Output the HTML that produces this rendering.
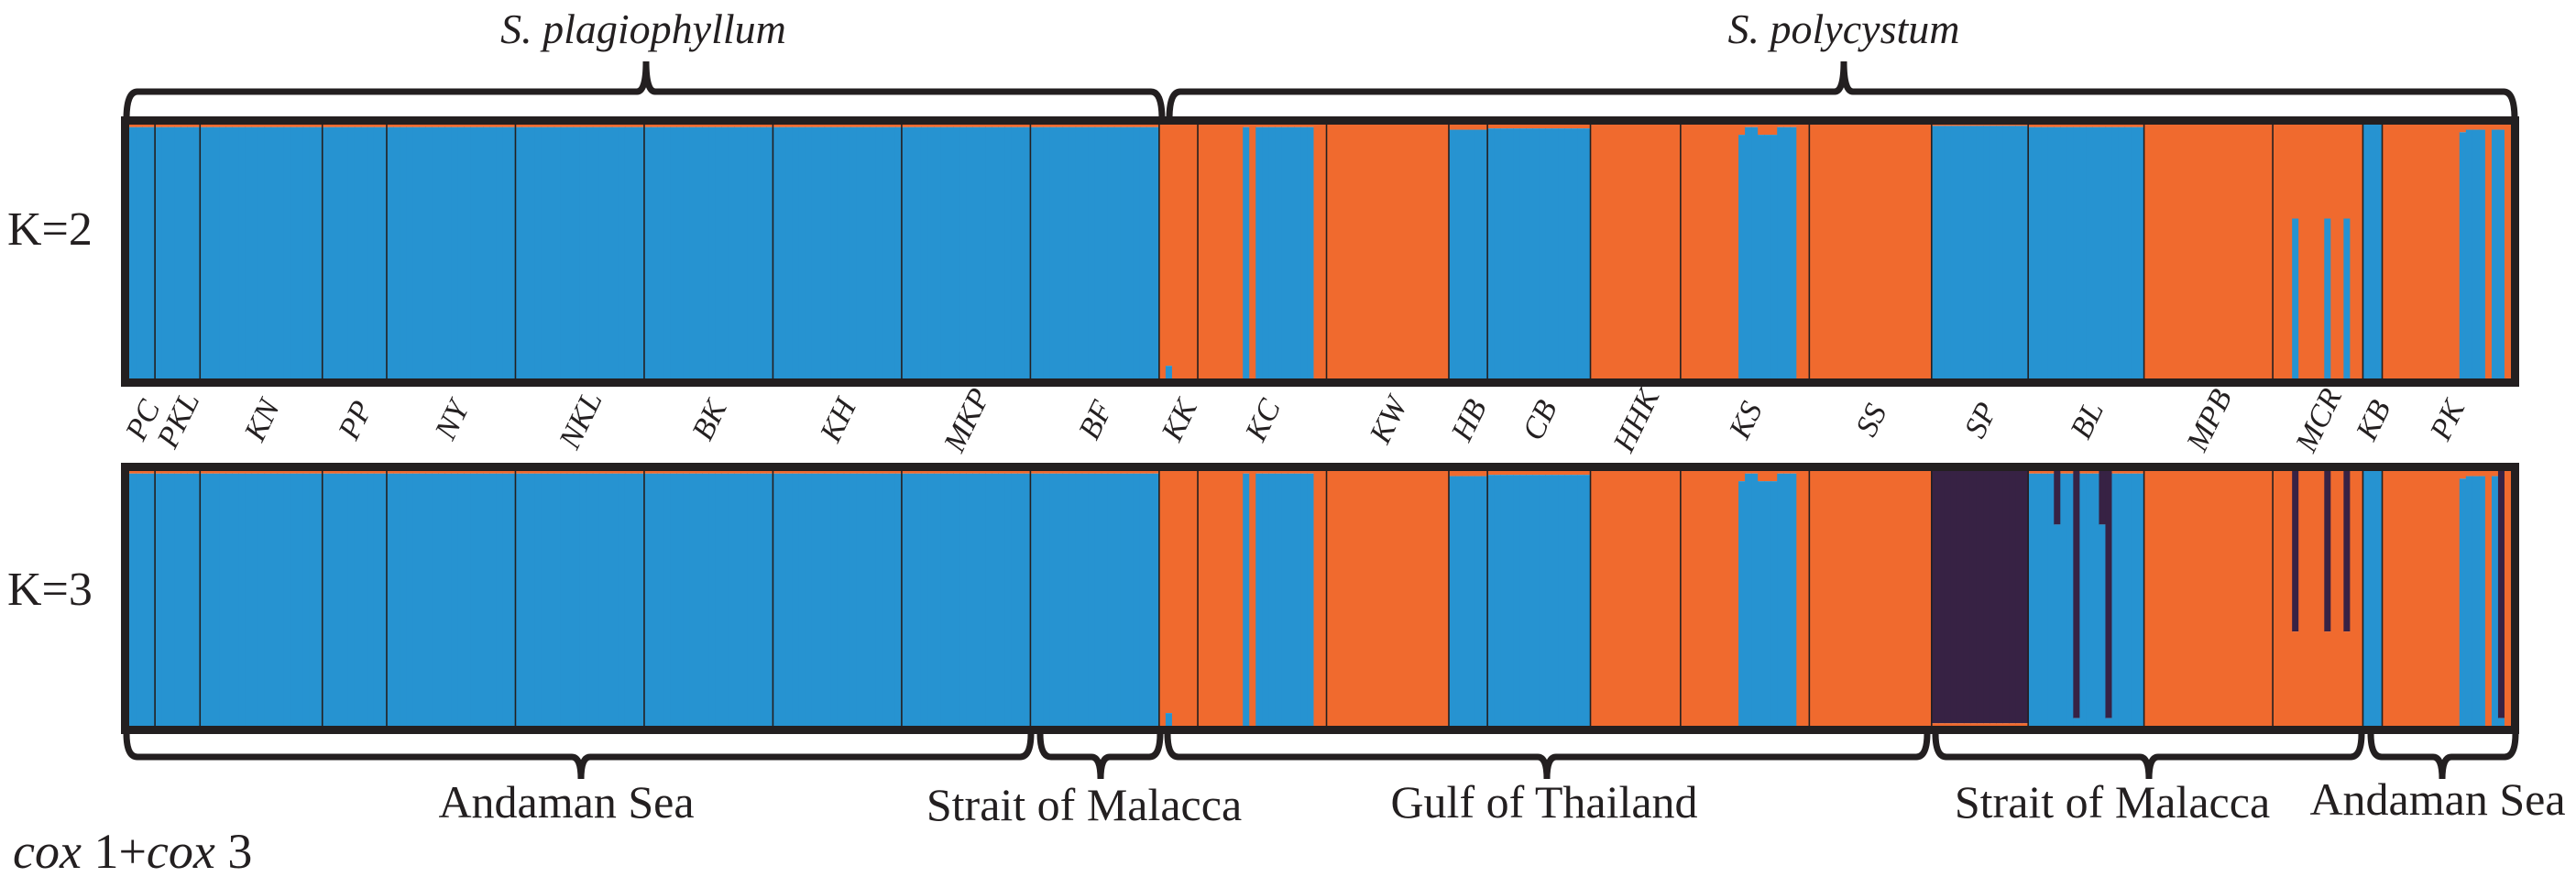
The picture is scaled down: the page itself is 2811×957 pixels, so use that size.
<!DOCTYPE html>
<html><head><meta charset="utf-8"><style>
html,body{margin:0;padding:0;background:#fff;}
svg{display:block;}
text{font-family:"Liberation Serif",serif;fill:#231f20;}
</style></head><body>
<svg id="chart" width="2811" height="957" viewBox="0 0 2811 957" xmlns="http://www.w3.org/2000/svg">
<g id="bars"></g>
<g id="seps"></g>
<rect x="136.5" y="131.5" width="2608" height="286" fill="none" stroke="#231f20" stroke-width="9"/>
<rect x="136.5" y="509.5" width="2608" height="287" fill="none" stroke="#231f20" stroke-width="9"/>
<text x="8" y="267" font-size="52">K=2</text>
<text x="8" y="660" font-size="52">K=3</text>
<g id="braces" fill="none" stroke="#231f20" stroke-width="7"></g>
<text x="702" y="47" font-size="46" font-style="italic" text-anchor="middle">S. plagiophyllum</text>
<text x="2012" y="47" font-size="46" font-style="italic" text-anchor="middle">S. polycystum</text>
<text x="618" y="892" font-size="50" text-anchor="middle">Andaman Sea</text>
<text x="1183" y="895" font-size="50" text-anchor="middle">Strait of Malacca</text>
<text x="1685" y="892" font-size="50" text-anchor="middle">Gulf of Thailand</text>
<text x="2305" y="892" font-size="50" text-anchor="middle">Strait of Malacca</text>
<text x="2660" y="889" font-size="50" text-anchor="middle">Andaman Sea</text>
<text x="14" y="947" font-size="54"><tspan font-style="italic">cox</tspan> 1+<tspan font-style="italic">cox</tspan> 3</text>
<g id="poplabels"></g>
</svg>
<script>
const populations = ['PC','PKL','KN','PP','NY','NKL','BK','KH','MKP','BF','KK','KC','KW','HB','CB','HHK','KS','SS','SP','BL','MPB','MCR','KB','PK'];
const sampleSizes = [4,7,19,10,20,20,20,20,20,20,6,20,19,6,16,14,20,19,15,18,20,14,3,20];
// K=2 default blue fraction per population (rest orange)
const k2Blue = [0.99,0.99,0.99,0.99,0.99,0.99,0.99,0.99,0.99,0.99,0,0.99,0,0.98,0.985,0,0,0,0.995,0.99,0,0,1,0];
// exceptions: [population, individual, blue]
const k2Except = [[10,1,0.05],[11,0,0],[11,1,0],[11,2,0],[11,3,0],[11,4,0],[11,5,0],[11,6,0],[11,8,0],[11,18,0],[11,19,0],
 [16,9,0.96],[16,10,0.99],[16,11,0.99],[16,12,0.96],[16,13,0.96],[16,14,0.96],[16,15,0.99],[16,16,0.99],[16,17,0.99],
 [21,3,0.63],[21,8,0.63],[21,11,0.63],
 [23,12,0.97],[23,13,0.98],[23,14,0.98],[23,15,0.98],[23,17,0.98],[23,18,0.98]];
// K=3 default purple fraction per population
const k3Purple = [0,0,0,0,0,0,0,0,0,0,0,0,0,0,0,0,0,0,0.99,0,0,0,0,0];
// K=3 exceptions: [population, individual, blue, purple]
const k3Except = [[19,4,0.79,0.21],[19,7,0.03,0.97],[19,11,0.79,0.21],[19,12,0.03,0.97],
 [21,3,0,0.63],[21,8,0,0.63],[21,11,0,0.63],[18,0,0,0.99],
 [23,18,0.03,0.97]];

const NS='http://www.w3.org/2000/svg';
const total = sampleSizes.reduce((a,b)=>a+b,0);
const X0=141, X1=2740;
function xScale(i){return X0+(X1-X0)*i/total;}
const panels=[{top:136,bot:413},{top:514,bot:792}];
const COL={blue:'#2693d1',orange:'#f06a2e',purple:'#372244'};
const barsG=document.getElementById('bars');
const sepG=document.getElementById('seps');
function rect(x,y,w,h,fill,name){
  const r=document.createElementNS(NS,'rect');
  r.setAttribute('x',x);r.setAttribute('y',y);r.setAttribute('width',w);r.setAttribute('height',h);r.setAttribute('fill',fill);
  
  
  barsG.appendChild(r);
}
function yScale(p,f){return (p.bot-p.top)*f;}
let idx=0;
populations.forEach((pop,pi)=>{
  for(let j=0;j<sampleSizes[pi];j++){
    const g=idx+j;
    const x=xScale(g), w=xScale(g+1)-x+0.6;
    let b=k2Blue[pi];
    k2Except.forEach(e=>{if(e[0]===pi&&e[1]===j)b=e[2];});
    let p=panels[0];
    let hb=yScale(p,b), ho=yScale(p,1-b);
    rect(x,p.top,w,ho,COL.orange,'k2-bar-orange-'+pop);
    rect(x,p.top+ho,w,hb,COL.blue,'k2-bar-blue-'+pop);
    let pu=k3Purple[pi], b3=(pu>0)?0:b;
    k3Except.forEach(e=>{if(e[0]===pi&&e[1]===j){b3=e[2];pu=e[3];}});
    p=panels[1];
    const hp=yScale(p,pu), hb3=yScale(p,b3), ho3=yScale(p,Math.max(0,1-pu-b3));
    rect(x,p.top,w,hp,COL.purple,'k3-bar-purple-'+pop);
    rect(x,p.top+hp,w,ho3,COL.orange,'k3-bar-orange-'+pop);
    rect(x,p.top+hp+ho3,w,hb3,COL.blue,'k3-bar-blue-'+pop);
  }
  const cx=(xScale(idx)+xScale(idx+sampleSizes[pi]))/2;
  const t=document.createElementNS(NS,'text');
  t.setAttribute('x',cx);t.setAttribute('y',470);
  t.setAttribute('font-size','34');t.setAttribute('font-style','italic');
  t.setAttribute('text-anchor','middle');
  t.setAttribute('transform','rotate(-64 '+cx+' 458)');
  t.textContent=pop;
  
  
  document.getElementById('poplabels').appendChild(t);
  idx+=sampleSizes[pi];
  if(pi<populations.length-1){
    panels.forEach((p,k)=>{
      const l=document.createElementNS(NS,'line');
      const xx=xScale(idx);
      l.setAttribute('x1',xx);l.setAttribute('x2',xx);l.setAttribute('y1',p.top);l.setAttribute('y2',p.bot);
      l.setAttribute('stroke','#231f20');l.setAttribute('stroke-width','1.6');
      
      
      sepG.appendChild(l);
    });
  }
});
function brace(x0,x1,xt,yEnd,yBar,yTip,name){
  const d='M'+x0+' '+yEnd+' Q'+x0+' '+yBar+' '+(x0+12)+' '+yBar+' L'+(xt-10)+' '+yBar+' Q'+xt+' '+yBar+' '+xt+' '+yTip+' Q'+xt+' '+yBar+' '+(xt+10)+' '+yBar+' L'+(x1-12)+' '+yBar+' Q'+x1+' '+yBar+' '+x1+' '+yEnd;
  const p=document.createElementNS(NS,'path');
  p.setAttribute('d',d);
  
  
  document.getElementById('braces').appendChild(p);
}
brace(138,1268,705,130,100,67,'brace-plagiophyllum');
brace(1276,2744,2012,130,100,67,'brace-polycystum');
brace(138,1125,634,800,826,850,'brace-andaman-1');
brace(1135,1266,1201,800,826,850,'brace-malacca-1');
brace(1274,2103,1688,800,826,850,'brace-gulf');
brace(2112,2577,2345,800,826,850,'brace-malacca-2');
brace(2587,2745,2665,800,826,850,'brace-andaman-2');
</script>
</body></html>
